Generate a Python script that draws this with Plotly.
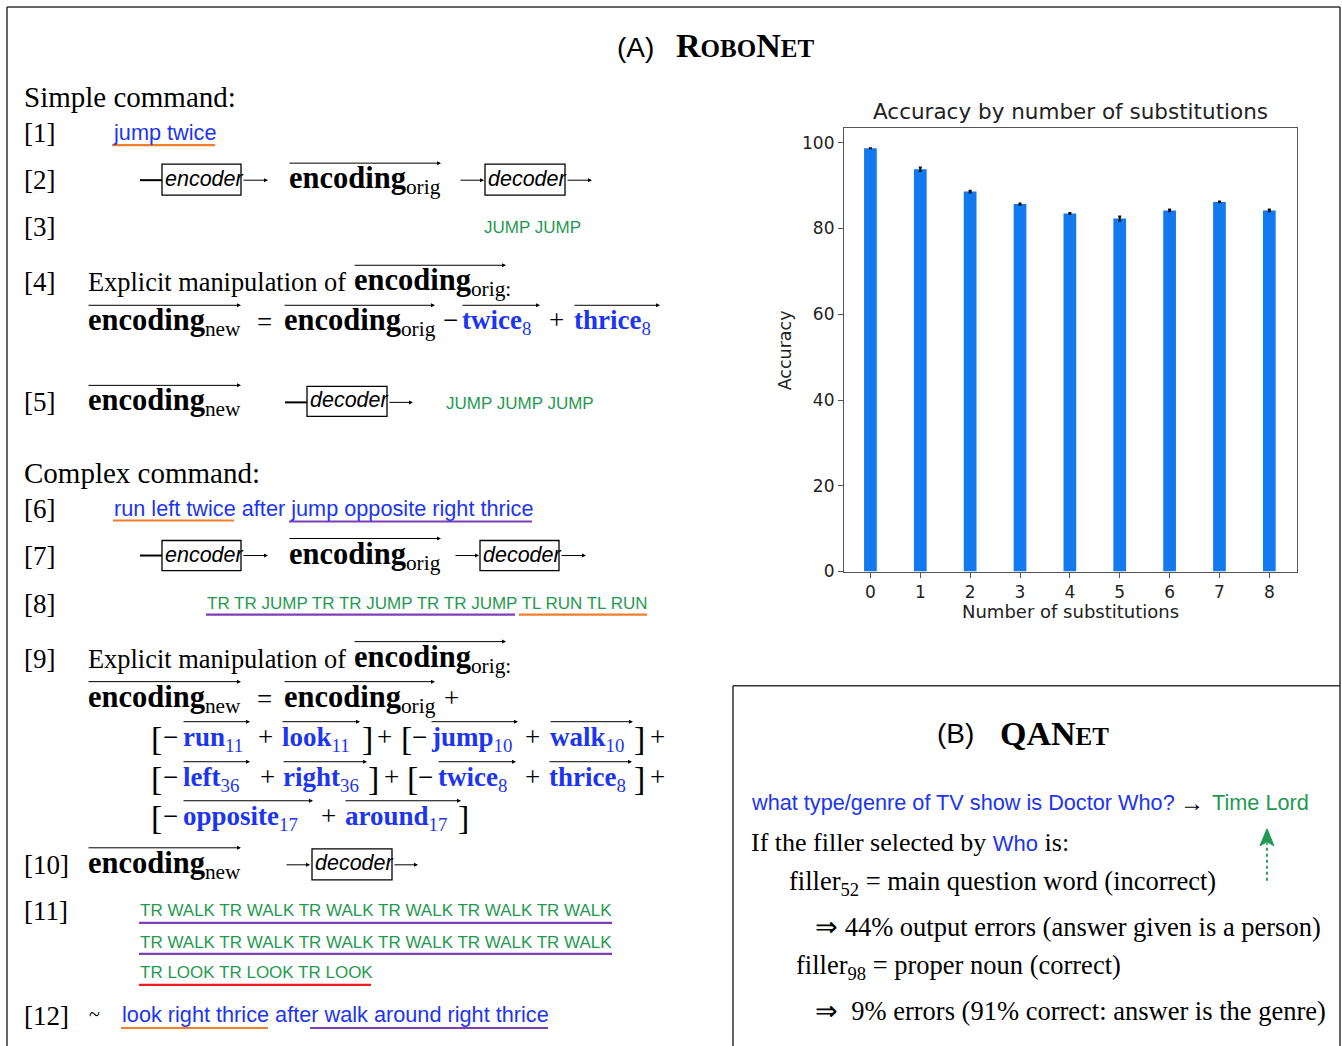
import plotly.graph_objects as go

# ---------------- data ----------------
substitutions = [0, 1, 2, 3, 4, 5, 6, 7, 8]
accuracy = [98.7, 93.8, 88.6, 85.7, 83.5, 82.3, 84.2, 86.2, 84.2]
accuracy_err = [0.0, 0.4, 0.2, 0.15, 0.1, 0.5, 0.2, 0.1, 0.2]
y_ticks = [0, 20, 40, 60, 80, 100]
chart_title = "Accuracy by number of substitutions"
x_title = "Number of substitutions"
y_title = "Accuracy"

W, H = 1342, 1046
LAYOUT_H = 1057
SERIF = "Liberation Serif, Times New Roman, serif"
NARROW = "Liberation Sans, Arial, sans-serif"
SANS = "DejaVu Sans, sans-serif"
BLUE = "#1c35f2"
GREEN = "#1f9a50"
ORANGE = "#f07f2e"
PURPLE = "#7d3fb8"
RED = "#ee1c1c"

BLUE_SZ = 21.7
GREEN_SZ = 17
BOX_SZ = 21.5


def px(x):
    return x / W


def py(y):
    return 1 - y / H


annotations = []
shapes = []


def text(x, y, s, size, color="black", family=SERIF, anchor="left", yanchor="middle"):
    annotations.append(dict(
        x=px(x), y=py(y), xref="paper", yref="paper", text=s, showarrow=False,
        xanchor=anchor, yanchor=yanchor, borderpad=0,
        font=dict(size=size, color=color, family=family)))


def hline(x0, x1, y, color="black", width=1.2, dash="solid"):
    shapes.append(dict(type="line", xref="paper", yref="paper",
                       x0=px(x0), x1=px(x1), y0=py(y), y1=py(y),
                       line=dict(color=color, width=width, dash=dash)))


def vline(x, y0, y1, color="black", width=1.2, dash="solid"):
    shapes.append(dict(type="line", xref="paper", yref="paper",
                       x0=px(x), x1=px(x), y0=py(y0), y1=py(y1),
                       line=dict(color=color, width=width, dash=dash)))


def box(x0, x1, y0, y1):
    shapes.append(dict(type="rect", xref="paper", yref="paper",
                       x0=px(x0), x1=px(x1), y0=py(y1), y1=py(y0),
                       line=dict(color="black", width=1.3)))


def arrow(x0, x1, y, width=1.0, size=0.8):
    annotations.append(dict(
        x=px(x1), y=py(y), xref="paper", yref="paper", text="",
        showarrow=True, ax=-(x1 - x0), ay=0, axref="pixel", ayref="pixel",
        arrowhead=2, arrowsize=size, arrowwidth=width, arrowcolor="black",
        standoff=0, startstandoff=0))


def under(x0, x1, y, color):
    hline(x0, x1, y, color=color, width=2.2)


def enc(x, y, sub, x_end, size=30.5):
    text(x, y, f"<b>encoding</b><sub>{sub}</sub>", size)
    arrow(x, x_end, y - 17)


def vec(x, y, word, sub, x_end, color=BLUE, size=27):
    text(x, y, f"<b>{word}</b><sub>{sub}</sub>", size, color=color)
    arrow(x, x_end, y - 17)


def boxed(x0, x1, y0, y1, label):
    box(x0, x1, y0, y1)
    text(x0 + 2, (y0 + y1) / 2 - 1, f"<i>{label}</i>", BOX_SZ, family=NARROW)


# ---------------- frame ----------------
hline(7, 1340, 7, color="#333", width=1.5)
vline(7, 7, 1046, color="#333", width=1.5)
vline(1340, 7, 1046, color="#333", width=1.5)
hline(733, 1340, 685, color="#333", width=1.5)
vline(733, 685, 1046, color="#333", width=1.5)

# ---------------- panel A header ----------------
text(616, 47, "(A)", 28, family=NARROW)
text(675, 45, "<b>R<span style='font-size:25px'>OBO</span>N<span style='font-size:25px'>ET</span></b>", 34)

text(23, 97, "Simple command:", 29)
text(23, 133, "[1]", 27)
text(112, 132, "jump twice", BLUE_SZ, color=BLUE, family=NARROW)
under(112, 215, 145, ORANGE)

text(23, 180, "[2]", 27)
hline(140, 162, 180, width=2)
boxed(162, 241, 164, 195, "encoder")
arrow(242, 268, 180)
enc(288, 180, "orig", 441)
arrow(459, 484, 180)
boxed(485, 565, 164, 195, "decoder")
arrow(566, 592, 180)

text(23, 227, "[3]", 27)
text(483, 227, "JUMP JUMP", GREEN_SZ, color=GREEN, family=NARROW)

text(23, 282, "[4]", 27)
text(87, 282, "Explicit manipulation of", 26.4)
enc(353, 282, "orig:", 506)
enc(87, 322, "new", 241)
text(256, 322, "=", 27)
enc(283, 322, "orig", 435)
text(442, 320, "−", 27)
vec(461, 322, "twice", "8", 540)
text(548, 320, "+", 27)
vec(573, 322, "thrice", "8", 660)

text(23, 402, "[5]", 27)
enc(87, 402, "new", 241)
hline(285, 307, 402, width=2)
boxed(307, 387, 386, 416, "decoder")
arrow(388, 413, 402)
text(445, 403, "JUMP JUMP JUMP", GREEN_SZ, color=GREEN, family=NARROW)

# ---------------- complex command ----------------
text(23, 473, "Complex command:", 29)
text(23, 509, "[6]", 27)
text(113, 508, "run left twice after jump opposite right thrice", BLUE_SZ, color=BLUE, family=NARROW)
under(113, 234, 520, ORANGE)
under(289, 532, 521, PURPLE)

text(23, 555, "[7]", 27)
hline(140, 162, 555, width=2)
boxed(162, 241, 540, 570, "encoder")
arrow(242, 268, 555)
enc(288, 555, "orig", 441)
arrow(454, 479, 555)
boxed(480, 559, 540, 570, "decoder")
arrow(560, 586, 555)

text(23, 603, "[8]", 27)
text(206, 603, "TR TR JUMP TR TR JUMP TR TR JUMP TL RUN TL RUN", GREEN_SZ, color=GREEN, family=NARROW)
under(206, 515, 614, PURPLE)
under(519, 647, 614, ORANGE)

text(23, 658, "[9]", 27)
text(87, 658, "Explicit manipulation of", 26.4)
enc(353, 658, "orig:", 506)
enc(87, 698, "new", 241)
text(256, 698, "=", 27)
enc(283, 698, "orig", 435)
text(443, 697, "+", 27)

# row 1
text(150, 738, "[", 34)
text(162, 736, "−", 27)
vec(182, 738, "run", "11", 250)
text(257, 736, "+", 27)
vec(281, 738, "look", "11", 360)
text(361, 738, "]", 34)
text(376, 736, "+", 27)
text(400, 738, "[", 34)
text(411, 736, "−", 27)
vec(430, 738, "jump", "10", 518)
text(524, 736, "+", 27)
vec(549, 738, "walk", "10", 633)
text(633, 738, "]", 34)
text(649, 736, "+", 27)
# row 2
text(150, 778, "[", 34)
text(162, 776, "−", 27)
vec(182, 778, "left", "36", 250)
text(259, 776, "+", 27)
vec(282, 778, "right", "36", 367)
text(367, 778, "]", 34)
text(383, 776, "+", 27)
text(406, 778, "[", 34)
text(417, 776, "−", 27)
vec(437, 778, "twice", "8", 516)
text(524, 776, "+", 27)
vec(548, 778, "thrice", "8", 632)
text(633, 778, "]", 34)
text(649, 776, "+", 27)
# row 3
text(150, 817, "[", 34)
text(162, 815, "−", 27)
vec(182, 817, "opposite", "17", 313)
text(320, 815, "+", 27)
vec(344, 817, "around", "17", 461)
text(457, 817, "]", 34)

text(23, 864, "[10]", 27)
enc(87, 864, "new", 241)
arrow(285, 310, 864)
boxed(312, 392, 848, 879, "decoder")
arrow(393, 418, 864)

text(23, 910, "[11]", 27)
text(139, 910, "TR WALK TR WALK TR WALK TR WALK TR WALK TR WALK", GREEN_SZ, color=GREEN, family=NARROW)
under(139, 612, 922, PURPLE)
text(139, 942, "TR WALK TR WALK TR WALK TR WALK TR WALK TR WALK", GREEN_SZ, color=GREEN, family=NARROW)
under(139, 612, 953, PURPLE)
text(139, 972, "TR LOOK TR LOOK TR LOOK", GREEN_SZ, color=GREEN, family=NARROW)
under(139, 371, 984, RED)

text(23, 1015, "[12]", 27)
text(88, 1013, "~", 20)
text(121, 1014, "look right thrice after walk around right thrice", BLUE_SZ, color=BLUE, family=NARROW)
under(121, 268, 1027, ORANGE)
under(310, 548, 1027, PURPLE)

# ---------------- panel B ----------------
text(936, 733, "(B)", 28, family=NARROW)
text(999, 733, "<b>QAN<span style='font-size:25px'>ET</span></b>", 34)
text(750, 802, "what type/genre of TV show is Doctor Who?", BLUE_SZ, color=BLUE, family=NARROW)
text(1179, 802, "→", 24)
text(1211, 802, "Time Lord", BLUE_SZ, color=GREEN, family=NARROW)
text(750, 842, "If the filler selected by <span style='font-family:Liberation Sans, Arial, sans-serif;font-size:22px;color:#1c35f2'>Who</span> is:", 26)
text(788, 882, "filler<sub>52</sub> = main question word (incorrect)", 26.5)
text(814, 926, "⇒ 44% output errors (answer given is a person)", 26.5)
text(795, 966, "filler<sub>98</sub> = proper noun (correct)", 26.5)
text(814, 1010, "⇒  9% errors (91% correct: answer is the genre)", 26.5)
vline(1267, 880, 842, color=GREEN, width=1.8, dash="dot")
shapes.append(dict(type="path", xref="paper", yref="paper",
                   path=f"M {px(1267)} {py(828)} L {px(1260)} {py(845)} L {px(1267)} {py(841)} L {px(1274)} {py(845)} Z",
                   fillcolor=GREEN, line=dict(color=GREEN, width=1)))

# ---------------- bar chart ----------------
text(1070, 111, chart_title, 21.5, color="#222", family=SANS, anchor="center")
text(1070, 611, x_title, 18, color="#222", family=SANS, anchor="center")
annotations.append(dict(x=px(785), y=py(350), xref="paper", yref="paper", text=y_title,
                        showarrow=False, textangle=-90, xanchor="center", yanchor="middle",
                        font=dict(size=17.5, color="#222", family=SANS)))

fig = go.Figure()
fig.add_trace(go.Bar(
    x=substitutions, y=accuracy, width=0.255,
    marker=dict(color="#1279ee", line=dict(width=0)),
    error_y=dict(type="data", array=accuracy_err, color="#111", thickness=2, width=1.5),
    showlegend=False))

axis_common = dict(showline=True, linecolor="#555", linewidth=1.2, mirror=True,
                   ticks="outside", ticklen=5, tickcolor="#555", showgrid=False, zeroline=False,
                   tickfont=dict(family=SANS, size=17, color="#222"))
fig.update_layout(
    width=W, height=LAYOUT_H, margin=dict(l=0, r=0, t=0, b=0), autosize=False,
    paper_bgcolor="white", plot_bgcolor="white",
    xaxis=dict(domain=[px(844), px(1297)], range=[-0.53, 8.555], tickvals=substitutions, **axis_common),
    yaxis=dict(domain=[py(571), py(128)], range=[0, 103.4], tickvals=y_ticks, **axis_common),
    annotations=annotations, shapes=shapes,
)
fig.write_html("out.html",
               config={"responsive": False, "displayModeBar": False},
               post_script="document.body.style.margin='0px';document.body.style.overflow='hidden';")
